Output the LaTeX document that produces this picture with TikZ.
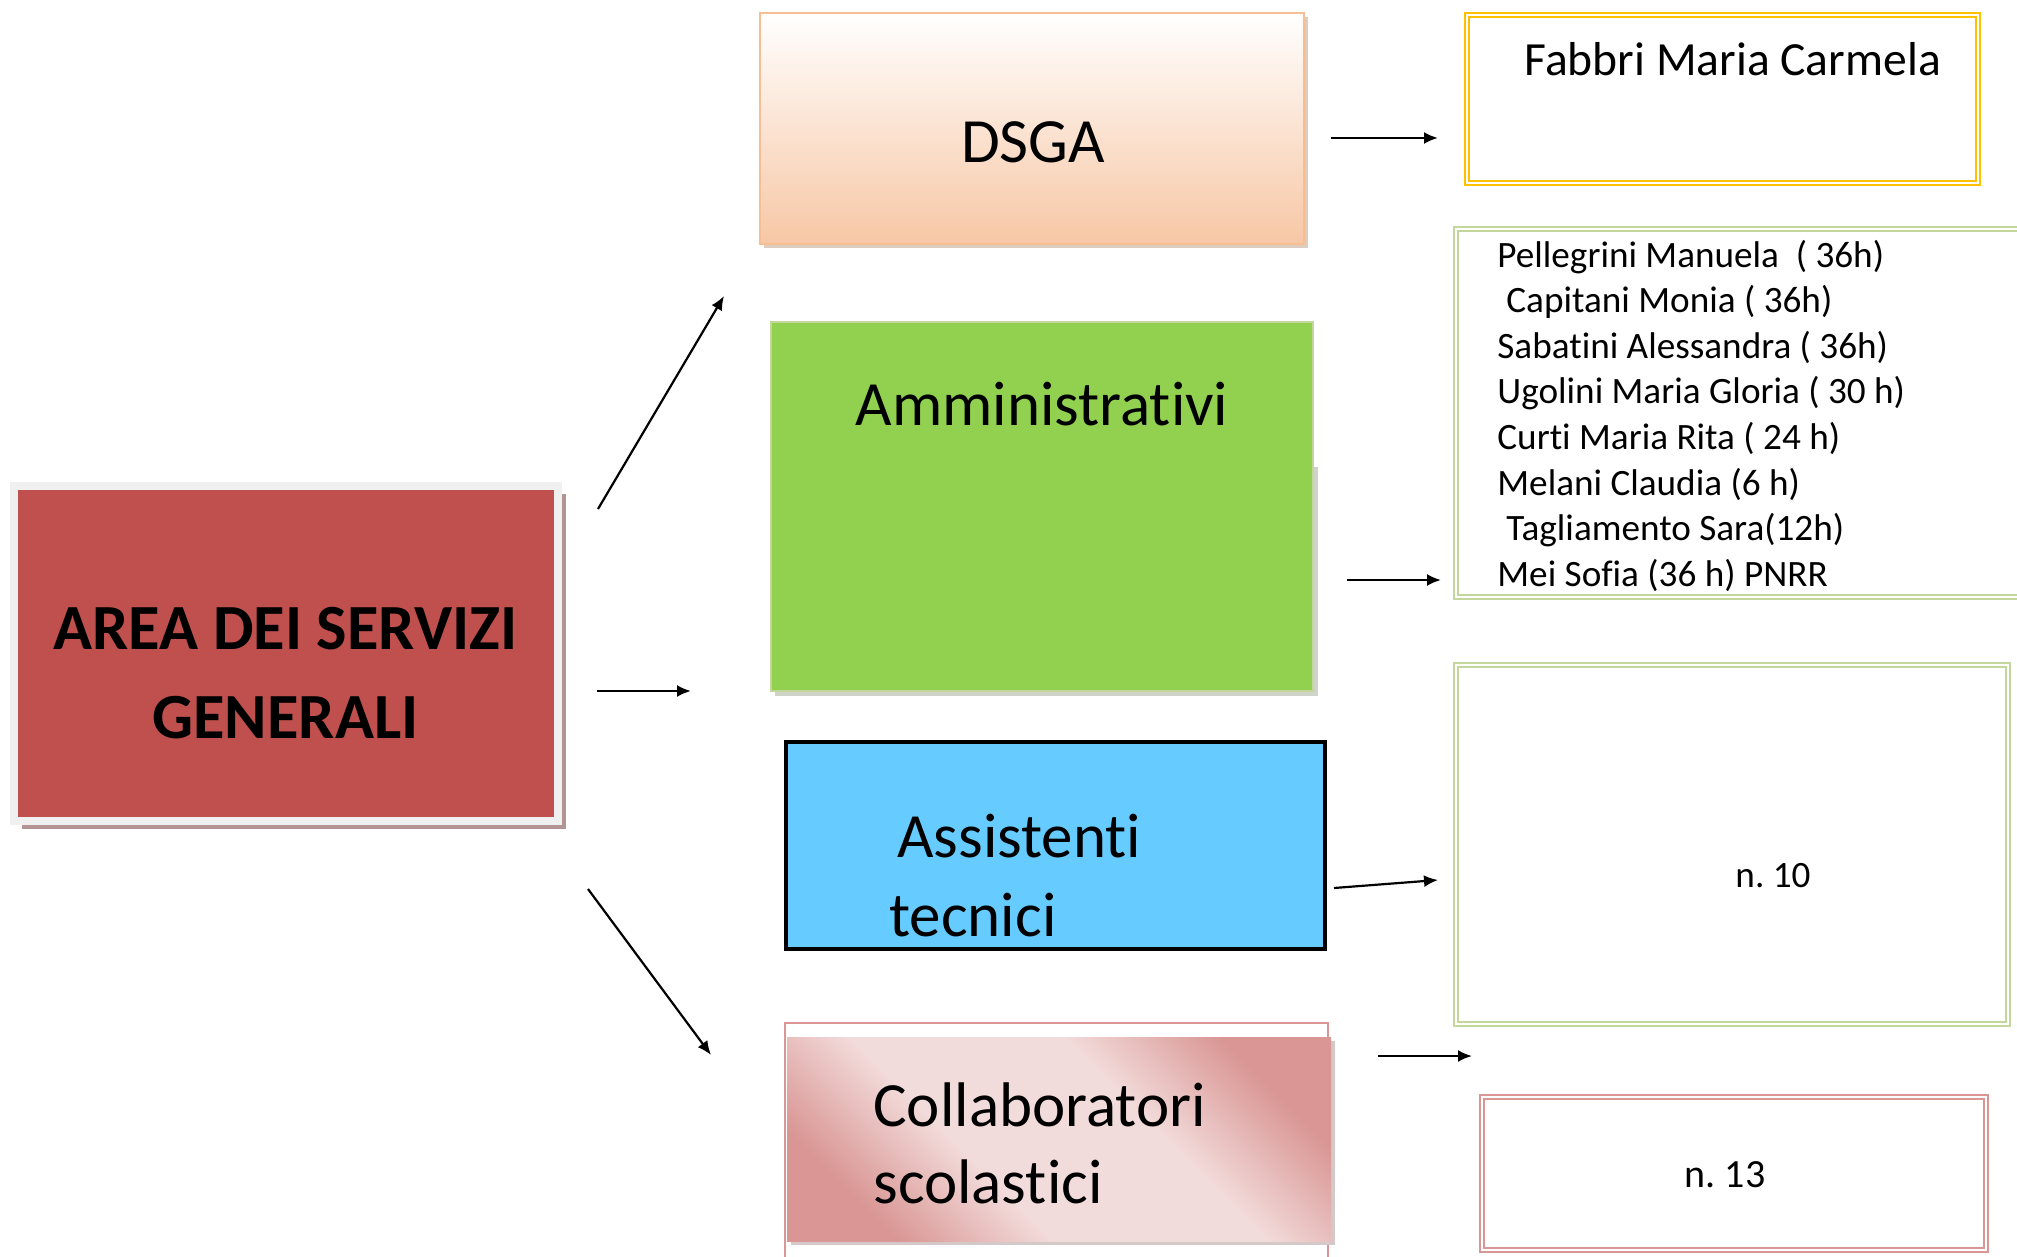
\documentclass[tikz,border=0pt]{standalone}
\usepackage{fontspec}
\setmainfont{Carlito}[Ligatures={NoCommon,NoContextual,NoRequired}]
\usetikzlibrary{arrows.meta,shadows}
\frenchspacing
\newcommand{\nl}{\kern0pt }
\definecolor{areared}{HTML}{C0504D}
\definecolor{areaframe}{HTML}{F0F0F0}
\definecolor{areashadow}{HTML}{B39494}
\definecolor{peach}{HTML}{F7C7A5}
\definecolor{peachline}{HTML}{F7BE93}
\definecolor{peachshadow}{HTML}{DDCDBF}
\definecolor{lgreen}{HTML}{92D050}
\definecolor{lgreenline}{HTML}{C3D69B}
\definecolor{greenshadow}{HTML}{D0D3C8}
\definecolor{sky}{HTML}{66CCFF}
\definecolor{pinkdark}{HTML}{D99694}
\definecolor{pinklight}{HTML}{F2DCDB}
\definecolor{pinkshadow}{HTML}{D5C8C8}
\definecolor{gold}{HTML}{FFC000}
\pgfdeclarehorizontalshading{collabshade}{100bp}{color(0bp)=(pinkdark); color(25bp)=(pinkdark); color(40bp)=(pinklight); color(60bp)=(pinklight); color(75bp)=(pinkdark); color(100bp)=(pinkdark)}
\tikzset{
  arr/.style={line width=1.1pt, -{Latex[length=7pt,width=6pt]}},
  box/.style={rectangle, inner sep=0pt, outer sep=0pt},
  dbl/.style={box, double=white, line width=1pt, double distance=0.7pt},
  bigtxt/.style={font=\fontsize{31.5}{44.5}\selectfont, inner sep=0pt, anchor=base},
}
\begin{document}
\begin{tikzpicture}[x=0.5pt,y=-0.5pt]
\useasboundingbox (0,0) rectangle (2017,1257);
\clip (0,0) rectangle (2017,1257);
\fill[white] (0,0) rectangle (2017,1257);

% left main box
\node[box, minimum width=271.75pt, minimum height=167.25pt, fill=areared, draw=areaframe, line width=4pt,
  drop shadow={shadow xshift=4pt, shadow yshift=-4pt, fill=areashadow, opacity=1}] (area) at (286,653.5) {};
\node[bigtxt, font=\bfseries\fontsize{32.2}{44.5}\selectfont] (areatxt) at (285.5,649)
  {\begin{tabular}[t]{@{}c@{}}AREA DEI SERVIZI\\GENERALI\end{tabular}};

% DSGA
\node[box, minimum width=272pt, minimum height=115.5pt, top color=white, bottom color=peach, draw=peachline, line width=1pt,
  drop shadow={shadow xshift=2pt, shadow yshift=-2pt, fill=peachshadow, opacity=1}] (dsga) at (1032,128.5) {};
\node[bigtxt] (dsgatxt) at (1033,163) {DSGA};

% Amministrativi
\fill[greenshadow] (775,467) rectangle (1318,696);
\node[box, minimum width=271pt, minimum height=184.5pt, fill=lgreen, draw=lgreenline, line width=0.8pt] (amm) at (1042,506.5) {};
\node[bigtxt] (ammtxt) at (1042,425) {Amministrat\nl ivi};

% Assistenti tecnici
\node[box, minimum width=269.5pt, minimum height=103.5pt, fill=sky, draw=black, line width=2.2pt] (ass) at (1055.5,845.5) {};
\node[bigtxt, anchor=base west] (asstxt) at (889,857)
  {\begin{tabular}[t]{@{}l@{}}\hspace*{4pt}Assistent\nl i\\[-5pt]tecnici\end{tabular}};

% Collaboratori scolastici
\node[box, minimum width=271.5pt, minimum height=133.5pt, draw=pinkdark, line width=0.7pt] (colframe) at (1056.5,1156.5) {};
\node[box, minimum width=272pt, minimum height=102pt, shading=collabshade, shading angle=45,
  drop shadow={shadow xshift=2pt, shadow yshift=-2pt, fill=pinkshadow, opacity=1}] (col) at (1059,1139) {};
\node[bigtxt, anchor=base west] (coltxt) at (873,1126)
  {\begin{tabular}[t]{@{}l@{}}Collaboratori\\[-6pt]scolast\nl ici\end{tabular}};

% right boxes
\node[dbl, draw=gold, minimum width=255.5pt, minimum height=84pt] (fabbri) at (1722.5,99) {};
\node[inner sep=0pt, anchor=base west, font=\fontsize{23.8}{28}\selectfont] (fabbritxt) at (1524,76) {Fabbri Maria Carmela};

\node[dbl, draw=lgreenline, minimum width=292pt, minimum height=184pt] (names) at (1748,413) {};
\node[inner sep=0pt, anchor=base west, font=\fontsize{18.6}{22.8}\selectfont] (namestxt) at (1497,267)
  {\begin{tabular}[t]{@{}l@{}}
  Pellegrini Manuela\ \ ( 36h)\\
  \hspace*{4.5pt}Capitani Monia ( 36h)\\
  Sabat\nl ini Alessandra ( 36h)\\
  Ugolini Maria Gloria ( 30 h)\\
  Curt\nl i Maria Rita ( 24 h)\\
  Melani Claudia (6 h)\\
  \hspace*{4.5pt}Tagliamento Sara(12h)\\
  Mei Sof\nl ia (36 h) PNRR
  \end{tabular}};

\node[dbl, draw=lgreenline, minimum width=276pt, minimum height=179.5pt] (n10) at (1732,844.5) {};
\node[inner sep=0pt, anchor=base, font=\fontsize{18.6}{22.8}\selectfont] (n10txt) at (1773,887) {n. 10};

\node[dbl, draw=pinkdark, minimum width=252pt, minimum height=76.5pt] (n13) at (1734,1173.5) {};
\node[inner sep=0pt, anchor=base, font=\fontsize{20}{24}\selectfont] (n13txt) at (1725,1187) {n. 13};

% arrows
\coordinate (a1s) at (598,509); \coordinate (a1e) at (724,296);
\coordinate (a2s) at (597,691); \coordinate (a2e) at (691,691);
\coordinate (a3s) at (588,889); \coordinate (a3e) at (711,1055);
\coordinate (b1s) at (1331,138); \coordinate (b1e) at (1438,138);
\coordinate (b2s) at (1347,580); \coordinate (b2e) at (1441,580);
\coordinate (b3s) at (1334,888); \coordinate (b3e) at (1438,880);
\coordinate (b4s) at (1378,1056); \coordinate (b4e) at (1472,1056);
\draw[arr] (a1s) -- (a1e);
\draw[arr] (a2s) -- (a2e);
\draw[arr] (a3s) -- (a3e);
\draw[arr] (b1s) -- (b1e);
\draw[arr] (b2s) -- (b2e);
\draw[arr] (b3s) -- (b3e);
\draw[arr] (b4s) -- (b4e);
\end{tikzpicture}
\end{document}
